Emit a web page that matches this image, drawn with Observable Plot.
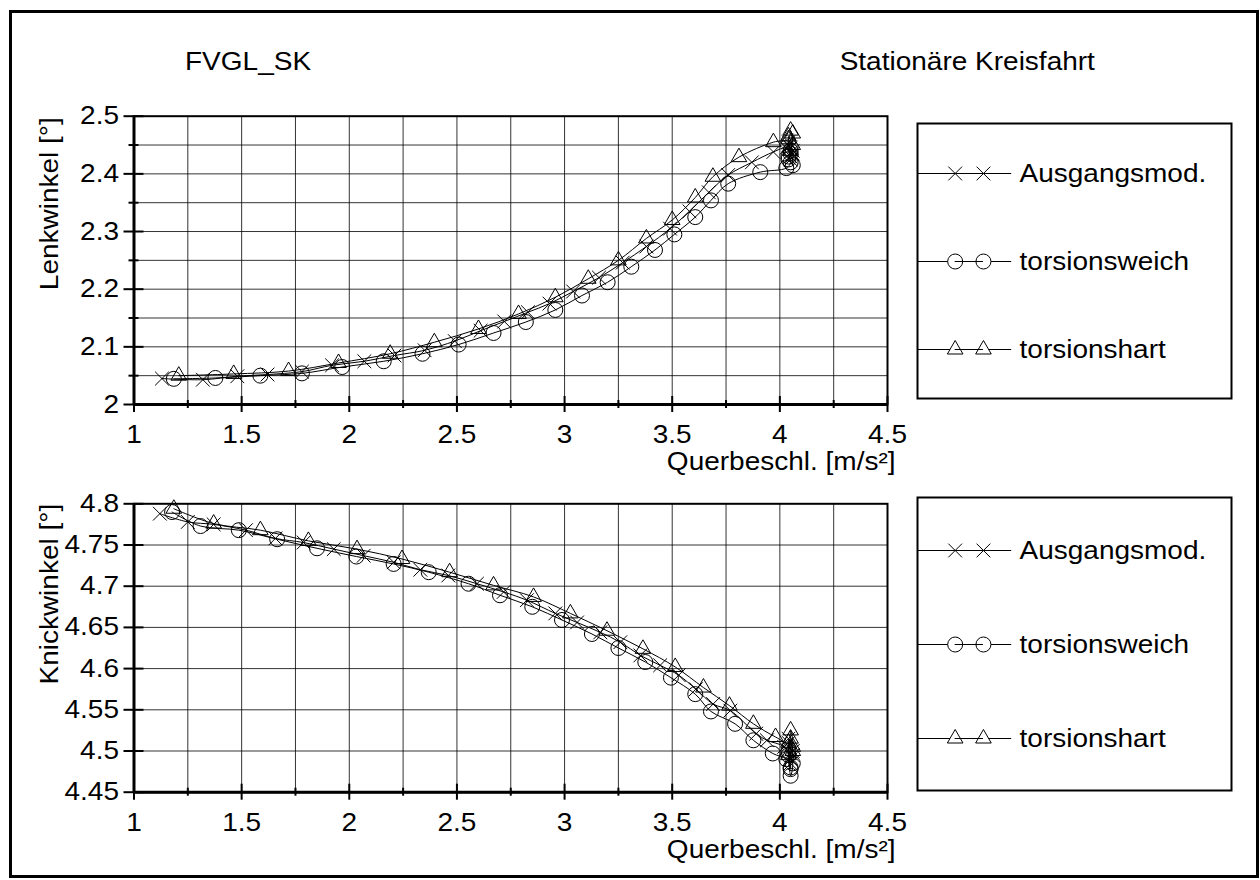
<!DOCTYPE html>
<html>
<head>
<meta charset="utf-8">
<script src="https://cdn.jsdelivr.net/npm/d3@7"></script>
<script src="https://cdn.jsdelivr.net/npm/@observablehq/plot@0.6"></script>
<style>
html, body { margin: 0; padding: 0; background: #fff; }
#wrap { position: relative; width: 1260px; height: 880px; overflow: hidden; background: #fff;
        font-family: "Liberation Sans", Arial, Helvetica, sans-serif; color: #000; }
#border { position: absolute; left: 9px; top: 10px; width: 1250px; height: 868px; box-sizing: border-box; border: 3px solid #000; }
.title { position: absolute; font-size: 25px; line-height: 25px; white-space: nowrap; }
.abs { position: absolute; }
</style>
</head>
<body>
<div id="wrap">
  <div id="border"></div>
  <div class="title" style="left:185px; top:49px; transform:scaleX(1.12); transform-origin:left top;">FVGL_SK</div>
  <div class="title" style="right:165px; top:49px; transform:scaleX(1.12); transform-origin:right top;">Stationäre Kreisfahrt</div>
  <div class="abs" id="p1" style="left:0; top:0;"></div>
  <div class="abs" id="p2" style="left:0; top:480px;"></div>
  <div class="abs" id="l1" style="left:915px; top:121px;"></div>
  <div class="abs" id="l2" style="left:915px; top:495px;"></div>
</div>
<script>
// ---------- Data ----------
const seriesNames = ["Ausgangsmod.", "torsionsweich", "torsionshart"];
const seriesSymbols = ["times", "circle", "triangle"];
const xLabel = "Querbeschl. [m/s²]";
const yLabelTop = "Lenkwinkel [°]";
const yLabelBottom = "Knickwinkel [°]";

const xDomain = [1, 4.5];
const xMajor = [1, 1.5, 2, 2.5, 3, 3.5, 4, 4.5];
const xMinor = [1.25, 1.75, 2.25, 2.75, 3.25, 3.75, 4.25];
const xGrid = [1.25, 1.5, 1.75, 2, 2.25, 2.5, 2.75, 3, 3.25, 3.5, 3.75, 4, 4.25];

const topDomain = [2, 2.5];
const topMajor = [2, 2.1, 2.2, 2.3, 2.4, 2.5];
const topMinor = [2.05, 2.15, 2.25, 2.35, 2.45];
const topGrid = [2.05, 2.1, 2.15, 2.2, 2.25, 2.3, 2.35, 2.4, 2.45];

const botDomain = [4.45, 4.8];
const botMajor = [4.45, 4.5, 4.55, 4.6, 4.65, 4.7, 4.75, 4.8];
const botGrid = [4.5, 4.55, 4.6, 4.65, 4.7, 4.75];

// Lenkwinkel — Ausgangsmod.
const topAusX = [1.13, 1.32, 1.48, 1.62, 1.78, 1.92, 2.07, 2.21, 2.35, 2.49, 2.61, 2.72, 2.83, 2.93, 3.04, 3.16, 3.27, 3.38, 3.49, 3.58, 3.67, 3.76, 3.87, 3.97, 4.03, 4.05, 4.04, 4.06, 4.05, 4.04, 4.06, 4.05];
const topAusY = [2.045, 2.043, 2.049, 2.052, 2.057, 2.068, 2.075, 2.085, 2.094, 2.11, 2.128, 2.144, 2.16, 2.175, 2.196, 2.22, 2.246, 2.274, 2.305, 2.335, 2.368, 2.398, 2.42, 2.438, 2.445, 2.43, 2.455, 2.44, 2.425, 2.45, 2.435, 2.445];
// Lenkwinkel — torsionsweich
const topWeichX = [1.185, 1.378, 1.587, 1.78, 1.967, 2.16, 2.34, 2.508, 2.67, 2.82, 2.957, 3.081, 3.2, 3.31, 3.42, 3.51, 3.607, 3.68, 3.76, 3.909, 4.03, 4.05, 4.04, 4.06, 4.05, 4.04, 4.05];
const topWeichY = [2.0445, 2.046, 2.05, 2.054, 2.065, 2.075, 2.088, 2.104, 2.124, 2.143, 2.164, 2.189, 2.212, 2.239, 2.268, 2.295, 2.325, 2.354, 2.383, 2.403, 2.41, 2.42, 2.43, 2.415, 2.44, 2.425, 2.435];
// Lenkwinkel — torsionshart
const topHartX = [1.208, 1.463, 1.718, 1.95, 2.19, 2.395, 2.6, 2.786, 2.957, 3.11, 3.25, 3.38, 3.5, 3.607, 3.689, 3.81, 3.97, 4.04, 4.05, 4.06, 4.04, 4.05, 4.06];
const topHartY = [2.05, 2.053, 2.058, 2.072, 2.088, 2.108, 2.131, 2.157, 2.186, 2.218, 2.25, 2.288, 2.32, 2.359, 2.395, 2.429, 2.455, 2.46, 2.475, 2.45, 2.465, 2.44, 2.47];

// Knickwinkel — Ausgangsmod.
const botAusX = [1.12, 1.25, 1.37, 1.52, 1.657, 1.788, 1.928, 2.067, 2.206, 2.33, 2.46, 2.593, 2.717, 2.825, 2.957, 3.058, 3.166, 3.259, 3.352, 3.444, 3.53, 3.61, 3.69, 3.77, 3.89, 3.94, 4.02, 4.05, 4.04, 4.06, 4.05, 4.04, 4.06];
const botAusY = [4.788, 4.778, 4.775, 4.768, 4.758, 4.753, 4.745, 4.737, 4.729, 4.72, 4.713, 4.703, 4.693, 4.683, 4.667, 4.656, 4.644, 4.632, 4.616, 4.604, 4.592, 4.575, 4.557, 4.549, 4.521, 4.513, 4.505, 4.49, 4.515, 4.5, 4.485, 4.51, 4.495];
// Knickwinkel — torsionsweich
const botWeichX = [1.177, 1.309, 1.487, 1.665, 1.85, 2.033, 2.206, 2.369, 2.554, 2.70, 2.85, 2.988, 3.127, 3.25, 3.375, 3.494, 3.607, 3.68, 3.792, 3.877, 3.967, 4.03, 4.05, 4.04, 4.06, 4.05, 4.04, 4.05];
const botWeichY = [4.79, 4.773, 4.768, 4.757, 4.746, 4.736, 4.727, 4.717, 4.703, 4.689, 4.675, 4.659, 4.642, 4.625, 4.608, 4.589, 4.569, 4.548, 4.533, 4.513, 4.497, 4.49, 4.48, 4.5, 4.485, 4.47, 4.495, 4.478];
// Knickwinkel — torsionshart
const botHartX = [1.185, 1.37, 1.587, 1.81, 2.036, 2.245, 2.466, 2.67, 2.856, 3.027, 3.197, 3.364, 3.514, 3.645, 3.766, 3.877, 3.98, 4.04, 4.05, 4.06, 4.04, 4.05, 4.06];
const botHartY = [4.794, 4.776, 4.768, 4.755, 4.745, 4.733, 4.717, 4.701, 4.687, 4.667, 4.646, 4.624, 4.602, 4.577, 4.555, 4.533, 4.517, 4.51, 4.525, 4.505, 4.495, 4.515, 4.5];

// ---------- Rendering ----------
const FONT = '"Liberation Sans", Arial, Helvetica, sans-serif';
const FS = 25;
const SX = 1.12;
const symbolR = {times: 6.3, circle: 7.5, triangle: 5.8};

const rows = (xs, ys) => xs.map((x, i) => ({x, y: ys[i]}));

function stretchText(svg) {
  svg.querySelectorAll("text").forEach(t => {
    const tr = t.getAttribute("transform") || "";
    t.setAttribute("transform", tr + ` scale(${SX},1)`);
  });
  return svg;
}

function panel({height, mt, mb, yDomain, yMajor, yMinor, yGrid, yLabel, series, yLabelDy}) {
  const marks = [
    Plot.ruleX(xGrid, {stroke: "#000", strokeOpacity: 0.8, strokeWidth: 1}),
    Plot.ruleY(yGrid, {stroke: "#000", strokeOpacity: 0.8, strokeWidth: 1}),
    Plot.frame({stroke: "#000", strokeWidth: 2}),
    Plot.ruleX([xDomain[0]], {stroke: "#000", strokeWidth: 3}),
    Plot.ruleY([yDomain[0]], {stroke: "#000", strokeWidth: 3}),
    Plot.axisX({ticks: xMajor, tickSize: 16, dy: -8, fill: "none", stroke: "#000", strokeWidth: 2, label: null}),
    Plot.axisX({ticks: xMinor, tickSize: 8, dy: -4, fill: "none", stroke: "#000", strokeWidth: 2, label: null}),
    Plot.axisX({ticks: xMajor, tickSize: 0, tickPadding: 21, tickFormat: d => String(d), fontSize: FS, fill: "#000", label: null}),
    Plot.axisY({ticks: yMajor, tickSize: 20, dx: 10, fill: "none", stroke: "#000", strokeWidth: 2, label: null}),
    Plot.axisY({ticks: yMajor, tickSize: 0, tickPadding: 15, tickFormat: d => String(d), fontSize: FS, fill: "#000", label: null}),
    Plot.text([yLabel], {text: d => d, frameAnchor: "top-left", rotate: -90, textAnchor: "end", lineAnchor: "bottom", dx: -76, dy: yLabelDy, fontSize: FS, fill: "#000"}),
    Plot.text([xLabel], {text: d => d, frameAnchor: "bottom-right", textAnchor: "end", lineAnchor: "top", dx: 8, dy: 48, fontSize: FS, fill: "#000"})
  ];
  if (yMinor.length) marks.push(Plot.axisY({ticks: yMinor, tickSize: 10, dx: 5, fill: "none", stroke: "#000", strokeWidth: 2, label: null}));
  series.forEach((data, i) => {
    marks.push(Plot.line(data, {x: "x", y: "y", curve: "catmull-rom", stroke: "#000", strokeWidth: 1}));
  });
  series.forEach((data, i) => {
    const s = seriesSymbols[i];
    marks.push(Plot.dot(data, {x: "x", y: "y", symbol: s, r: symbolR[s], fill: "none", stroke: "#000", strokeWidth: 1}));
  });
  return stretchText(Plot.plot({
    width: 900, height,
    marginLeft: 133.5, marginRight: 13, marginTop: mt, marginBottom: mb,
    x: {domain: xDomain, axis: null},
    y: {domain: yDomain, axis: null},
    style: {fontFamily: FONT, fontSize: FS + "px", color: "#000", background: "transparent", overflow: "visible"},
    marks
  }));
}

function legend(height) {
  const marks = [
    Plot.frame({stroke: "#000", strokeWidth: 2}),
    Plot.ruleY(seriesNames, {y: d => d, x1: 0, x2: 0.3, stroke: "#000", strokeWidth: 1}),
    Plot.text(seriesNames, {x: () => 0.325, y: d => d, text: d => d, textAnchor: "start", fontSize: FS, fill: "#000"})
  ];
  seriesNames.forEach((n, i) => {
    const s = seriesSymbols[i];
    marks.push(Plot.dot([0.12, 0.21], {x: d => d, y: () => n, symbol: s, r: symbolR[s], fill: "#fff", stroke: "#000", strokeWidth: 1}));
    marks.push(Plot.ruleY([n], {y: d => d, x1: 0.12, x2: 0.21, stroke: "#000", strokeWidth: 1}));
  });
  return stretchText(Plot.plot({
    width: 318, height, margin: 2,
    x: {domain: [0, 1], axis: null},
    y: {type: "point", domain: seriesNames, padding: 0.55, axis: null},
    style: {fontFamily: FONT, fontSize: FS + "px", color: "#000", background: "transparent", overflow: "visible"},
    marks
  }));
}

document.getElementById("p1").appendChild(panel({
  height: 480, mt: 115.7, mb: 76,
  yDomain: topDomain, yMajor: topMajor, yMinor: topMinor, yGrid: topGrid, yLabel: yLabelTop, yLabelDy: 1,
  series: [rows(topAusX, topAusY), rows(topWeichX, topWeichY), rows(topHartX, topHartY)]
}));
document.getElementById("p2").appendChild(panel({
  height: 400, mt: 23.3, mb: 88.3,
  yDomain: botDomain, yMajor: botMajor, yMinor: [], yGrid: botGrid, yLabel: yLabelBottom, yLabelDy: 0,
  series: [rows(botAusX, botAusY), rows(botWeichX, botWeichY), rows(botHartX, botHartY)]
}));
document.getElementById("l1").appendChild(legend(279));
document.getElementById("l2").appendChild(legend(297));
</script>
</body>
</html>
